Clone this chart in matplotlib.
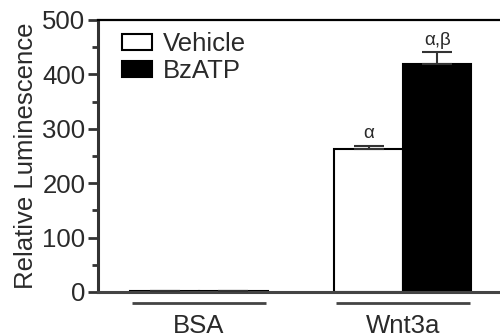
import numpy as np
import matplotlib.pyplot as plt

plt.rcParams['font.family'] = ['Liberation Sans', 'DejaVu Sans']

# Data
groups = ['BSA', 'Wnt3a']
series = ['Vehicle', 'BzATP']
vehicle = [2, 263]
bzatp = [2, 420]
vehicle_err = [0, 6]
bzatp_err = [0, 21]
vehicle_marks = ['', 'α']
bzatp_marks = ['', 'α,β']

fig = plt.figure(figsize=(5, 3.36), dpi=100)
ax = fig.add_axes([0.196, 0.131, 0.84, 0.8095])

x = np.arange(len(groups))
w = 0.336
text_col = '#2a2a2a'
fs = 18.5

ax.bar(x - w / 2, vehicle, w, color='white', edgecolor='black', linewidth=1.5,
       label=series[0], zorder=2)
ax.bar(x + w / 2, bzatp, w, color='black', edgecolor='black', linewidth=1.5,
       label=series[1], zorder=2)
ax.errorbar(x - w / 2, vehicle, yerr=[np.zeros(2), vehicle_err], fmt='none',
            ecolor='#333333', elinewidth=1.5, capsize=11, capthick=1.5, zorder=3)
ax.errorbar(x + w / 2, bzatp, yerr=[np.zeros(2), bzatp_err], fmt='none',
            ecolor='#333333', elinewidth=1.5, capsize=11, capthick=1.5, zorder=3)

for i in range(len(groups)):
    if vehicle_marks[i]:
        ax.text(x[i] - w / 2, vehicle[i] + vehicle_err[i] + 6, vehicle_marks[i],
                ha='center', va='bottom', fontsize=13.5, color=text_col)
    if bzatp_marks[i]:
        ax.text(x[i] + w / 2, bzatp[i] + bzatp_err[i] + 6, bzatp_marks[i],
                ha='center', va='bottom', fontsize=13.5, color=text_col)

# group underlines below the axis
for xi in x:
    ax.plot([xi - 0.33, xi + 0.33], [-20, -20], color='#444444', lw=2,
            clip_on=False, solid_capstyle='butt')

ax.set_xlim(-0.495, 1.564)
ax.set_ylim(0, 500)
ax.set_yticks(np.arange(0, 501, 100))
ax.set_yticks(np.arange(50, 500, 100), minor=True)
ax.set_xticks(x)
ax.set_xticklabels(groups, fontsize=fs, color=text_col)
ax.tick_params(axis='x', length=0, pad=16)
ax.tick_params(axis='y', which='major', length=7, width=2, color='#333333',
               labelsize=fs, labelcolor=text_col, pad=2)
ax.tick_params(axis='y', which='minor', length=4, width=2, color='#333333')
ax.set_ylabel('Relative Luminescence', fontsize=fs, color=text_col, labelpad=3)

ax.spines['right'].set_visible(False)
ax.spines['left'].set_linewidth(2.2)
ax.spines['left'].set_color('#333333')
ax.spines['bottom'].set_linewidth(2.2)
ax.spines['bottom'].set_color('#444444')
ax.spines['top'].set_linewidth(1.6)
ax.spines['top'].set_color('black')

ax.legend(loc='upper left', bbox_to_anchor=(0.057, 0.955), frameon=False,
          fontsize=fs, handlelength=1.17, handleheight=0.58, handletextpad=0.42,
          labelspacing=0.12, borderpad=0, borderaxespad=0, labelcolor=text_col)

plt.savefig('out.png', dpi=100)
